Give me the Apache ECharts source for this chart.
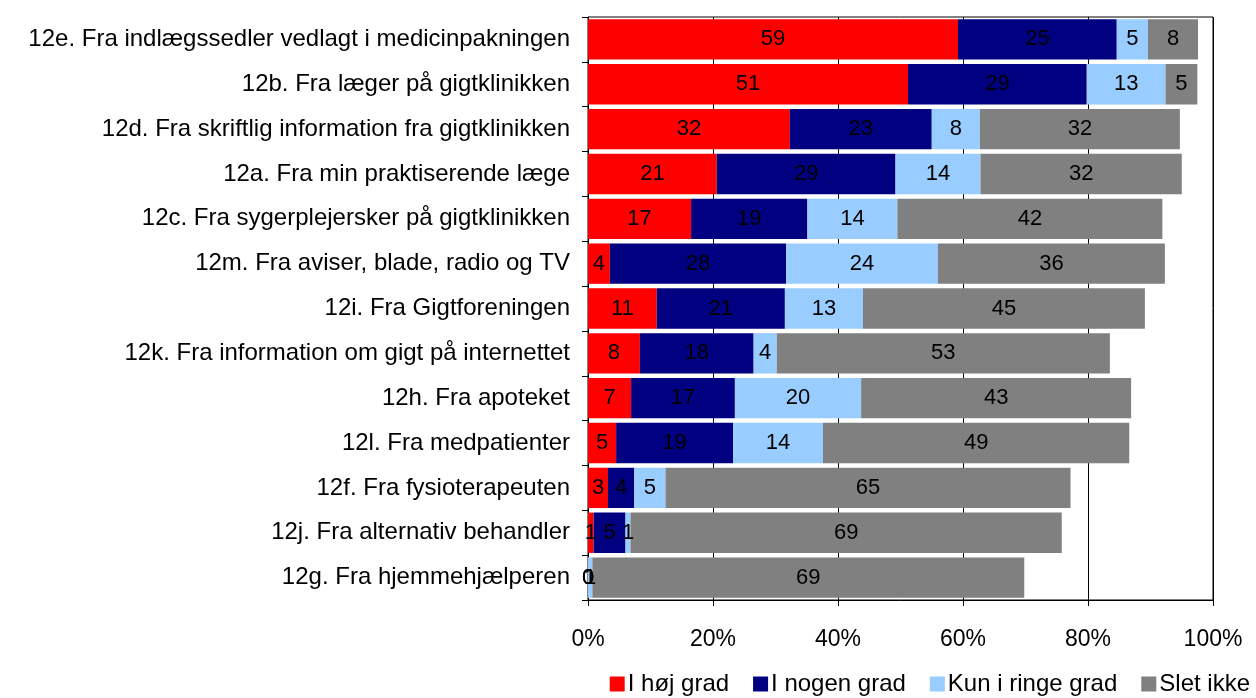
<!DOCTYPE html>
<html>
<head>
<meta charset="utf-8">
<script src="https://cdn.jsdelivr.net/npm/echarts@6/dist/echarts.min.js"></script>
<style>
  html, body { margin: 0; padding: 0; background: #fff; }
  #main { width: 1256px; height: 698px; }
</style>
</head>
<body>
<div id="main"></div>
<script>
// question items, top to bottom
const categories = [
  '12e. Fra indlægssedler vedlagt i medicinpakningen',
  '12b. Fra læger på gigtklinikken',
  '12d. Fra skriftlig information fra gigtklinikken',
  '12a. Fra min praktiserende læge',
  '12c. Fra sygerplejersker på gigtklinikken',
  '12m. Fra aviser, blade, radio og TV',
  '12i. Fra Gigtforeningen',
  '12k. Fra information om gigt på internettet',
  '12h. Fra apoteket',
  '12l. Fra medpatienter',
  '12f. Fra fysioterapeuten',
  '12j. Fra alternativ behandler',
  '12g. Fra hjemmehjælperen'
];

// percentages per answer
const hoejGrad   = [59.2, 51.2, 32.3, 20.6, 16.5, 3.5, 11.0, 8.3, 6.9, 4.5, 3.2, 0.9, 0];
const nogenGrad  = [25.4, 28.6, 22.7, 28.6, 18.6, 28.2, 20.5, 18.2, 16.6, 18.7, 4.2, 5.1, 0];
const ringeGrad  = [5.0, 12.6, 7.7, 13.6, 14.4, 24.3, 12.5, 3.7, 20.2, 14.4, 5.0, 0.8, 0.7];
const sletIkke   = [8.0, 5.1, 32.0, 32.2, 42.4, 36.3, 45.1, 53.3, 43.2, 49.0, 64.8, 69.0, 69.1];

const seriesNames = ['I høj grad', 'I nogen grad', 'Kun i ringe grad', 'Slet ikke'];
const seriesColors = ['#ff0000', '#000080', '#99ccff', '#808080'];

const chart = echarts.init(document.getElementById('main'));

const makeSeries = (name, data, color) => ({
  name: name,
  type: 'bar',
  stack: 'total',
  data: data,
  barCategoryGap: '10%',
  itemStyle: { color: color },
  label: {
    show: true,
    position: 'inside',
    color: '#000',
    fontSize: 22,
    fontFamily: 'Liberation Sans',
    formatter: p => Math.round(p.value)
  }
});

chart.setOption({
  animation: false,
  textStyle: { fontFamily: 'Liberation Sans' },
  grid: { left: 588, right: 43, top: 17, bottom: 98, containLabel: false, show: true, borderColor: '#000', borderWidth: 1 },
  legend: {
    right: 6,
    bottom: 2,
    padding: 0,
    itemWidth: 15,
    itemHeight: 15,
    itemGap: 24,
    icon: 'rect',
    textStyle: { fontSize: 24, color: '#000', fontFamily: 'Liberation Sans', padding: [0, 0, 0, -2] },
    data: seriesNames
  },
  xAxis: {
    type: 'value',
    min: 0,
    max: 100,
    interval: 20,
    axisLabel: { formatter: '{value}%', fontSize: 23, color: '#000', margin: 28 },
    axisLine: { show: true, lineStyle: { color: '#000' } },
    axisTick: { show: true, length: 6, lineStyle: { color: '#000' } },
    splitLine: { show: true, lineStyle: { color: '#000', width: 1 } }
  },
  yAxis: {
    type: 'category',
    inverse: true,
    data: categories,
    axisLabel: { fontSize: 24, color: '#000', margin: 18 },
    axisLine: { show: true, lineStyle: { color: '#000' } },
    axisTick: { show: true, length: 6, lineStyle: { color: '#000' } }
  },
  series: [
    makeSeries(seriesNames[0], hoejGrad, seriesColors[0]),
    makeSeries(seriesNames[1], nogenGrad, seriesColors[1]),
    makeSeries(seriesNames[2], ringeGrad, seriesColors[2]),
    makeSeries(seriesNames[3], sletIkke, seriesColors[3])
  ]
});
</script>
</body>
</html>
